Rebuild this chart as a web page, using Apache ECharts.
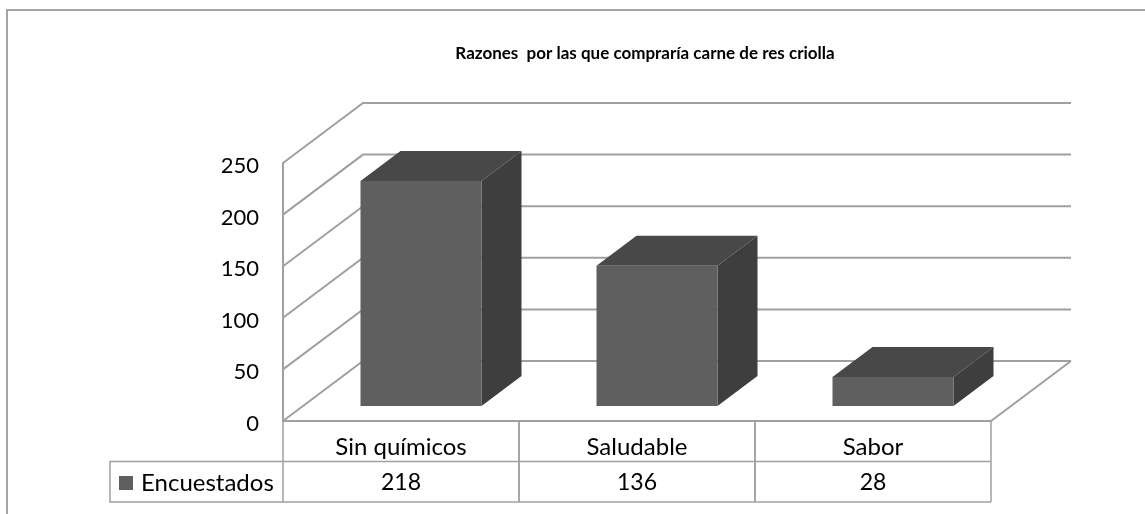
<!DOCTYPE html>
<html>
<head>
<meta charset="utf-8">
<style>
    html, body { margin: 0; padding: 0; background: #fff; }
    #chart { width: 1145px; height: 514px; }
</style>
</head>
<body>
<div id="chart"></div>
<script src="https://cdn.jsdelivr.net/npm/echarts@6/dist/echarts.min.js"></script>
<script>
var categories = ['Sin químicos', 'Saludable', 'Sabor'];
var encuestados = [218, 136, 28];
var yTicks = [0, 50, 100, 150, 200, 250];
var seriesName = 'Encuestados';
var titleText = 'Razones  por las que compraría carne de res criolla';

var FONT = 'Lato';
var LINE = '#a0a0a0';
var DEPTH_X = 80, DEPTH_Y = -60;       // wall offset
var BAR_X = 20, BAR_Y = -15;           // bar front face inside the floor
var BAR_DX = 40, BAR_DY = -30;         // bar depth
var BAR_RATIO = 121 / 236;
var ROW = 40.5;

var myChart = echarts.init(document.getElementById('chart'));

function gridItem(params, api) {
    var p = api.coord([0, api.value(0)]);
    var left = params.coordSys.x;
    var w = params.coordSys.width;
    var style = { stroke: LINE, lineWidth: 2, fill: null };
    var children = [{
        type: 'polyline',
        shape: { points: [[left, p[1]], [left + DEPTH_X, p[1] + DEPTH_Y], [left + w + DEPTH_X, p[1] + DEPTH_Y]] },
        style: style
    }];
    if (api.value(0) === 0) {
        children.push({
            type: 'polyline',
            shape: { points: [[left + w, p[1]], [left + w + DEPTH_X, p[1] + DEPTH_Y]] },
            style: style
        });
    }
    return { type: 'group', children: children };
}

function barItem(params, api) {
    var band = api.size([1, 0])[0];
    var c = api.coord([api.value(0), api.value(1)]);
    var base = api.coord([api.value(0), 0]);
    var w = band * BAR_RATIO;
    var x0 = c[0] - w / 2 + BAR_X, x1 = x0 + w;
    var top = c[1] + BAR_Y, bot = base[1] + BAR_Y;
    return {
        type: 'group',
        children: [
            { type: 'polygon', shape: { points: [[x0, top], [x1, top], [x1 + BAR_DX, top + BAR_DY], [x0 + BAR_DX, top + BAR_DY]] }, style: { fill: '#484848' } },
            { type: 'polygon', shape: { points: [[x1, top], [x1 + BAR_DX, top + BAR_DY], [x1 + BAR_DX, bot + BAR_DY], [x1, bot]] }, style: { fill: '#3e3e3e' } },
            { type: 'rect', shape: { x: x0, y: top, width: w, height: bot - top }, style: { fill: '#5f5f5f' } }
        ]
    };
}

function tableItem(params, api) {
    var band = api.size([1, 0])[0];
    var c = api.coord([api.value(0), 0]);
    var l = c[0] - band / 2, r = c[0] + band / 2, y = c[1];
    var style = { stroke: LINE, lineWidth: 1.5, fill: null };
    return {
        type: 'group',
        children: [
            { type: 'line', shape: { x1: l, y1: y, x2: l, y2: y + 2 * ROW }, style: style },
            { type: 'line', shape: { x1: r, y1: y, x2: r, y2: y + 2 * ROW }, style: style },
            { type: 'line', shape: { x1: l, y1: y + ROW, x2: r, y2: y + ROW }, style: style },
            { type: 'line', shape: { x1: l, y1: y + 2 * ROW, x2: r, y2: y + 2 * ROW }, style: style },
            {
                type: 'text',
                style: {
                    x: c[0], y: y + 1.5 * ROW + 1, text: String(api.value(1)),
                    fill: '#000', font: '23px ' + FONT, align: 'center', verticalAlign: 'middle'
                }
            }
        ]
    };
}

var option = {
    animation: false,
    backgroundColor: '#fff',
    title: {
        text: titleText,
        left: 640,
        top: 40,
        textAlign: 'center',
        textStyle: { fontFamily: FONT, fontSize: 17, fontWeight: 'bold', color: '#000' }
    },
    legend: {
        data: [seriesName],
        left: 119,
        top: 471,
        padding: 0,
        icon: 'rect',
        itemWidth: 14,
        itemHeight: 14,
        itemGap: 0,
        textStyle: { fontFamily: FONT, fontSize: 24, color: '#000', padding: [0, 0, 0, 3] }
    },
    grid: { left: 283, right: 154, top: 163, height: 258 },
    xAxis: {
        type: 'category',
        data: categories,
        axisTick: { show: false },
        axisLine: { show: true, lineStyle: { color: LINE, width: 2 } },
        axisLabel: { margin: 14, color: '#000', fontFamily: FONT, fontSize: 24 }
    },
    yAxis: {
        type: 'value',
        min: 0,
        max: 250,
        interval: 50,
        axisTick: { show: false },
        splitLine: { show: false },
        axisLine: { show: true, lineStyle: { color: LINE, width: 2 } },
        axisLabel: { margin: 24, color: '#000', fontFamily: FONT, fontSize: 22, verticalAlign: 'top', lineHeight: 6 }
    },
    graphic: [
        { type: 'polyline', shape: { points: [[7, 514], [7, 10], [1145, 10]] }, style: { stroke: '#a6a6a6', lineWidth: 2, fill: null } },
        { type: 'polyline', shape: { points: [[283, 461.5], [110, 461.5], [110, 502], [283, 502]] }, style: { stroke: LINE, lineWidth: 1.5, fill: null } }
    ],
    series: [
        { name: 'paredes', type: 'custom', renderItem: gridItem, data: yTicks.map(function (v) { return [v]; }), encode: { y: 0 }, z: 1 },
        { name: 'tabla', type: 'custom', renderItem: tableItem, data: encuestados.map(function (v, i) { return [i, v]; }), z: 1 },
        { name: seriesName, type: 'custom', renderItem: barItem, itemStyle: { color: '#5f5f5f' }, data: encuestados.map(function (v, i) { return [i, v]; }), encode: { x: 0, y: 1 }, z: 3 }
    ]
};
myChart.setOption(option, true);
</script>
</body>
</html>
